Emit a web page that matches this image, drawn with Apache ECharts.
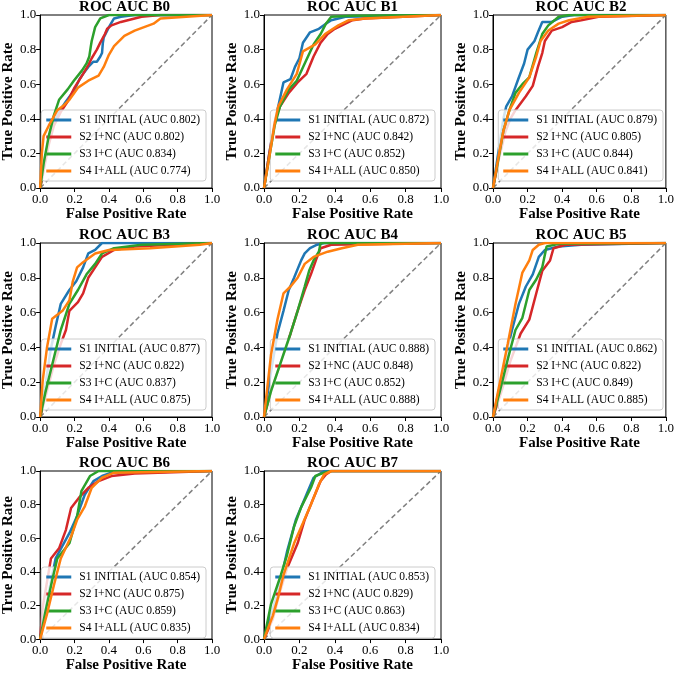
<!DOCTYPE html>
<html>
<head>
<meta charset="utf-8">
<script src="https://cdn.jsdelivr.net/npm/echarts@6/dist/echarts.min.js"></script>
<style>
  html, body { margin: 0; padding: 0; background: #fff; }
  #main { width: 677px; height: 674px; }
</style>
</head>
<body>
<div id="main"></div>
<script>
var panels = ['B0', 'B1', 'B2', 'B3', 'B4', 'B5', 'B6', 'B7'];
var schemes = ['S1 INITIAL', 'S2 I+NC', 'S3 I+C', 'S4 I+ALL'];
var ticks = [0, 0.2, 0.4, 0.6, 0.8, 1.0];
var diag = [[0, 0], [1, 1]];

// AUC per panel, in scheme order
var aucB0 = [0.802, 0.802, 0.834, 0.774];
var aucB1 = [0.872, 0.842, 0.852, 0.850];
var aucB2 = [0.879, 0.805, 0.844, 0.841];
var aucB3 = [0.877, 0.822, 0.837, 0.875];
var aucB4 = [0.888, 0.848, 0.852, 0.888];
var aucB5 = [0.862, 0.822, 0.849, 0.885];
var aucB6 = [0.854, 0.875, 0.859, 0.835];
var aucB7 = [0.853, 0.829, 0.863, 0.834];

// ROC points [fpr, tpr]
var b0s1 = [[0,0],[0.02,0.12],[0.05,0.28],[0.08,0.38],[0.11,0.44],[0.15,0.50],[0.18,0.54],[0.2,0.57],[0.23,0.63],[0.25,0.66],[0.28,0.70],[0.31,0.73],[0.33,0.73],[0.35,0.76],[0.36,0.78],[0.365,0.84],[0.37,0.87],[0.39,0.91],[0.40,0.93],[0.43,0.98],[0.47,0.99],[0.55,1.0],[1,1]];
var b0s2 = [[0,0],[0.02,0.1],[0.05,0.25],[0.08,0.36],[0.12,0.44],[0.16,0.50],[0.2,0.58],[0.25,0.66],[0.28,0.71],[0.30,0.75],[0.33,0.80],[0.35,0.84],[0.377,0.89],[0.39,0.92],[0.415,0.94],[0.47,0.96],[0.55,0.98],[0.59,0.99],[0.7,1.0],[1,1]];
var b0s3 = [[0,0],[0.02,0.14],[0.05,0.30],[0.08,0.42],[0.11,0.51],[0.16,0.57],[0.196,0.62],[0.244,0.68],[0.27,0.72],[0.286,0.76],[0.295,0.82],[0.30,0.85],[0.32,0.93],[0.35,0.98],[0.40,1.0],[1,1]];
var b0s4 = [[0,0],[0.01,0.2],[0.02,0.3],[0.05,0.36],[0.1,0.45],[0.14,0.48],[0.17,0.51],[0.22,0.58],[0.28,0.62],[0.34,0.65],[0.37,0.70],[0.40,0.77],[0.43,0.82],[0.49,0.88],[0.55,0.91],[0.66,0.95],[0.70,0.98],[0.85,0.99],[1,1]];

var b1s1 = [[0,0],[0.03,0.2],[0.06,0.38],[0.08,0.47],[0.11,0.61],[0.15,0.63],[0.175,0.70],[0.20,0.75],[0.22,0.84],[0.26,0.90],[0.31,0.92],[0.35,0.95],[0.38,0.97],[0.46,0.99],[1,1]];
var b1s2 = [[0,0],[0.03,0.2],[0.06,0.38],[0.09,0.47],[0.14,0.55],[0.19,0.61],[0.24,0.66],[0.28,0.76],[0.32,0.84],[0.36,0.89],[0.40,0.92],[0.46,0.95],[0.5,0.97],[0.57,0.98],[1,1]];
var b1s3 = [[0,0],[0.03,0.18],[0.06,0.36],[0.09,0.47],[0.14,0.57],[0.185,0.62],[0.23,0.72],[0.28,0.83],[0.32,0.89],[0.35,0.95],[0.38,0.99],[0.5,0.995],[1,1]];
var b1s4 = [[0,0],[0.03,0.18],[0.06,0.37],[0.08,0.47],[0.13,0.57],[0.185,0.66],[0.22,0.79],[0.29,0.83],[0.345,0.89],[0.42,0.94],[0.48,0.97],[0.57,0.98],[1,1]];

var b2s1 = [[0,0],[0.03,0.2],[0.06,0.40],[0.076,0.47],[0.11,0.53],[0.15,0.64],[0.18,0.72],[0.2,0.80],[0.24,0.85],[0.26,0.90],[0.285,0.96],[0.34,0.96],[0.40,0.99],[0.47,1.0],[1,1]];
var b2s2 = [[0,0],[0.03,0.15],[0.07,0.32],[0.10,0.40],[0.13,0.45],[0.19,0.53],[0.23,0.59],[0.26,0.70],[0.285,0.78],[0.30,0.85],[0.34,0.91],[0.40,0.93],[0.455,0.96],[0.51,0.97],[0.61,0.99],[1,1]];
var b2s3 = [[0,0],[0.03,0.16],[0.06,0.33],[0.095,0.45],[0.13,0.55],[0.17,0.60],[0.21,0.64],[0.25,0.78],[0.285,0.89],[0.32,0.94],[0.38,0.99],[0.44,1.0],[1,1]];
var b2s4 = [[0,0],[0.03,0.17],[0.06,0.33],[0.095,0.45],[0.15,0.55],[0.21,0.64],[0.25,0.76],[0.275,0.85],[0.32,0.91],[0.38,0.95],[0.44,0.97],[0.55,0.99],[1,1]];

var b3s1 = [[0,0],[0.03,0.18],[0.06,0.38],[0.09,0.52],[0.12,0.65],[0.17,0.73],[0.21,0.78],[0.25,0.86],[0.28,0.94],[0.32,0.96],[0.36,1.0],[1,1]];
var b3s2 = [[0,0],[0.04,0.15],[0.08,0.30],[0.12,0.42],[0.15,0.50],[0.17,0.61],[0.22,0.66],[0.25,0.71],[0.28,0.80],[0.32,0.86],[0.36,0.92],[0.43,0.96],[0.55,0.98],[1,1]];
var b3s3 = [[0,0],[0.03,0.14],[0.07,0.30],[0.12,0.50],[0.17,0.65],[0.22,0.73],[0.27,0.82],[0.32,0.88],[0.36,0.94],[0.43,0.97],[0.59,0.99],[1,1]];
var b3s4 = [[0,0],[0.015,0.21],[0.04,0.40],[0.07,0.565],[0.13,0.61],[0.17,0.67],[0.19,0.78],[0.215,0.86],[0.25,0.89],[0.32,0.94],[0.40,0.96],[0.64,0.97],[0.93,0.99],[1,1]];

var b4s1 = [[0,0],[0.03,0.2],[0.076,0.48],[0.11,0.61],[0.14,0.73],[0.17,0.80],[0.21,0.90],[0.23,0.94],[0.26,0.97],[0.30,0.99],[0.34,1.0],[1,1]];
var b4s2 = [[0,0],[0.04,0.15],[0.1,0.33],[0.15,0.48],[0.19,0.61],[0.23,0.73],[0.265,0.82],[0.30,0.92],[0.32,0.97],[0.38,0.99],[1,1]];
var b4s3 = [[0,0],[0.04,0.15],[0.1,0.33],[0.15,0.48],[0.19,0.61],[0.23,0.75],[0.255,0.84],[0.28,0.90],[0.31,0.95],[0.32,1.0],[1,1]];
var b4s4 = [[0,0],[0.02,0.18],[0.04,0.36],[0.076,0.56],[0.11,0.71],[0.15,0.75],[0.19,0.80],[0.23,0.88],[0.28,0.92],[0.36,0.95],[0.44,0.97],[0.53,0.99],[1,1]];

var b5s1 = [[0,0],[0.04,0.18],[0.08,0.38],[0.11,0.50],[0.15,0.65],[0.19,0.75],[0.23,0.82],[0.265,0.92],[0.30,0.96],[0.38,0.98],[0.51,0.99],[1,1]];
var b5s2 = [[0,0],[0.05,0.15],[0.1,0.32],[0.16,0.48],[0.21,0.56],[0.25,0.71],[0.285,0.84],[0.33,0.90],[0.35,0.97],[0.42,0.99],[1,1]];
var b5s3 = [[0,0],[0.04,0.15],[0.09,0.35],[0.13,0.50],[0.17,0.57],[0.21,0.73],[0.25,0.79],[0.285,0.86],[0.31,0.98],[0.38,0.995],[1,1]];
var b5s4 = [[0,0],[0.03,0.15],[0.085,0.42],[0.13,0.65],[0.17,0.83],[0.21,0.90],[0.23,0.96],[0.265,0.99],[0.30,1.0],[1,1]];

var b6s1 = [[0,0],[0.03,0.17],[0.06,0.33],[0.09,0.48],[0.17,0.63],[0.21,0.72],[0.26,0.86],[0.31,0.94],[0.36,0.97],[0.415,0.99],[1,1]];
var b6s2 = [[0,0],[0.015,0.19],[0.063,0.48],[0.11,0.54],[0.15,0.65],[0.18,0.78],[0.225,0.84],[0.28,0.90],[0.34,0.94],[0.415,0.97],[0.55,0.985],[1,1]];
var b6s3 = [[0,0],[0.03,0.16],[0.07,0.35],[0.10,0.48],[0.17,0.57],[0.215,0.73],[0.24,0.88],[0.29,0.97],[0.34,1.0],[1,1]];
var b6s4 = [[0,0],[0.04,0.15],[0.08,0.32],[0.12,0.48],[0.18,0.61],[0.215,0.71],[0.26,0.79],[0.30,0.90],[0.36,0.96],[0.43,0.99],[1,1]];

var b7s1 = [[0,0],[0.04,0.15],[0.07,0.25],[0.10,0.38],[0.13,0.52],[0.18,0.71],[0.24,0.86],[0.28,0.96],[0.34,1.0],[1,1]];
var b7s2 = [[0,0],[0.05,0.12],[0.09,0.28],[0.13,0.42],[0.19,0.57],[0.23,0.71],[0.28,0.84],[0.32,0.94],[0.35,0.98],[0.38,1.0],[1,1]];
var b7s3 = [[0,0],[0.04,0.21],[0.095,0.38],[0.13,0.50],[0.17,0.67],[0.21,0.785],[0.265,0.90],[0.29,0.97],[0.34,0.99],[0.38,1.0],[1,1]];
var b7s4 = [[0,0],[0.05,0.14],[0.08,0.25],[0.11,0.38],[0.17,0.57],[0.22,0.69],[0.265,0.80],[0.31,0.92],[0.34,0.98],[0.38,1.0],[1,1]];

var aucs = [aucB0, aucB1, aucB2, aucB3, aucB4, aucB5, aucB6, aucB7];
var curves = [
  [b0s1, b0s2, b0s3, b0s4], [b1s1, b1s2, b1s3, b1s4], [b2s1, b2s2, b2s3, b2s4],
  [b3s1, b3s2, b3s3, b3s4], [b4s1, b4s2, b4s3, b4s4], [b5s1, b5s2, b5s3, b5s4],
  [b6s1, b6s2, b6s3, b6s4], [b7s1, b7s2, b7s3, b7s4]
];

var W = 677, H = 674;
var font = "'Liberation Serif', 'Times New Roman', serif";
var colors = ['#1f77b4', '#d62728', '#2ca02c', '#ff7f0e'];
var colLeft = [37, 264, 493], colWidth = [175, 177, 176];
var rowTop = [15, 243, 471], rowHeight = [173, 174, 174];

var grids = [], xAxes = [], yAxes = [], titles = [], legends = [], series = [];

panels.forEach(function (p, i) {
  var c = i % 3, r = Math.floor(i / 3);
  var L = colLeft[c], T = rowTop[r], GW = colWidth[c], GH = rowHeight[r];

  grids.push({
    left: L, top: T, width: GW, height: GH,
    show: true, borderColor: '#000', borderWidth: 1, backgroundColor: 'transparent'
  });

  titles.push({
    text: 'ROC AUC ' + p,
    left: L + GW / 2, top: T - 15, textAlign: 'center',
    padding: 0,
    textStyle: { fontFamily: font, fontSize: 15, fontWeight: 'bold', color: '#000' }
  });

  xAxes.push({
    gridIndex: i, type: 'value', min: 0, max: 1, interval: 0.2,
    name: 'False Positive Rate', nameLocation: 'middle', nameGap: 18,
    nameTextStyle: { fontFamily: font, fontSize: 15, fontWeight: 'bold', color: '#000' },
    axisLine: { show: true, lineStyle: { color: '#000', width: 1 } },
    axisTick: { show: true, length: 4, lineStyle: { color: '#000' } },
    axisLabel: { fontFamily: font, fontSize: 13, color: '#000', margin: 5,
      formatter: function (v) { return v.toFixed(1); } },
    splitLine: { show: false }
  });

  yAxes.push({
    gridIndex: i, type: 'value', min: 0, max: 1, interval: 0.2,
    name: 'True Positive Rate', nameLocation: 'middle', nameGap: 21,
    nameTextStyle: { fontFamily: font, fontSize: 15, fontWeight: 'bold', color: '#000' },
    axisLine: { show: true, lineStyle: { color: '#000', width: 1 } },
    axisTick: { show: true, length: 4, lineStyle: { color: '#000' } },
    axisLabel: { fontFamily: font, fontSize: 13, color: '#000', margin: 4,
      formatter: function (v) { return v.toFixed(1); } },
    splitLine: { show: false }
  });

  series.push({
    type: 'line', xAxisIndex: i, yAxisIndex: i, data: diag,
    symbol: 'none', silent: true, z: 1,
    lineStyle: { color: '#808080', width: 1.5, type: [5, 3] }
  });

  var names = [];
  curves[i].forEach(function (pts, k) {
    var nm = schemes[k] + ' (AUC ' + aucs[i][k].toFixed(3) + ')';
    names.push(nm);
    series.push({
      name: nm, type: 'line', xAxisIndex: i, yAxisIndex: i, data: pts,
      symbol: 'none', z: 2 + k, color: colors[k],
      itemStyle: { color: colors[k] },
      lineStyle: { color: colors[k], width: 2.5 }
    });
  });

  legends.push({
    data: names, orient: 'vertical',
    right: W - (L + GW) + 6, bottom: H - (T + GH) + 7,
    icon: 'rect', itemWidth: 25, itemHeight: 3, itemGap: 5,
    selectedMode: false,
    backgroundColor: 'rgba(255,255,255,0.8)',
    borderColor: '#cccccc', borderWidth: 1, borderRadius: 3,
    padding: [4, 6, 4, 5],
    textStyle: { fontFamily: font, fontSize: 11.5, color: '#000', padding: [0, 0, 0, 3] }
  });
});

var chart = echarts.init(document.getElementById('main'));
chart.setOption({
  animation: false,
  backgroundColor: '#fff',
  textStyle: { fontFamily: font },
  title: titles,
  legend: legends,
  grid: grids,
  xAxis: xAxes,
  yAxis: yAxes,
  series: series
});
</script>
</body>
</html>
